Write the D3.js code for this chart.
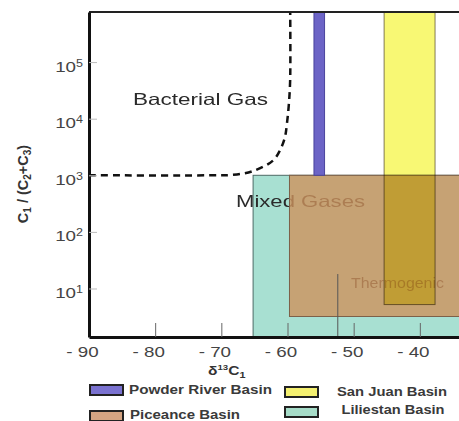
<!DOCTYPE html>
<html>
<head>
<meta charset="utf-8">
<script src="https://cdn.jsdelivr.net/npm/d3@7"></script>
<style>
  body { margin: 0; background: #fff; }
  svg { display: block; font-family: Arial, "Liberation Sans", sans-serif; }
</style>
</head>
<body>
<svg id="chart" width="459" height="421"></svg>
<script>
// basin boxes, drawn bottom to top
const basinNames = ["Liliestan Basin", "Piceance Basin", "San Juan Basin", "Powder River Basin"];
const d13cLow = [-65.2, -59.7, -45.4, -56.0];
const d13cHigh = [-30, -30, -37.7, -54.4];
const ratioLow = [1, 3.2, 5.2, 1000];
const ratioHigh = [1000, 1000, 1e6, 1e6];

// dashed bacterial gas boundary
const boundaryD13c = [-90, -71.3, -68.3, -65.2, -62.2, -61.15, -60.4, -60.1, -59.8, -59.6, -59.6];
const boundaryRatio = [1000, 1000, 1020, 1190, 1820, 2740, 4650, 7900, 17800, 47300, 1e6];

// short line at the thermogenic field
const thermoD13c = [-52.4, -52.4];
const thermoRatio = [18, 1];

const xTicks = [-90, -80, -70, -60, -50, -40];
const yTicks = [10, 100, 1000, 10000, 100000];

const regionLabels = ["Bacterial Gas", "Mixed Gases", "Thermogenic"];
const legendOrder = ["Powder River Basin", "Piceance Basin", "San Juan Basin", "Liliestan Basin"];

const fills = {
  "Liliestan Basin": "#a8e0d2",
  "Piceance Basin": "rgba(205,146,92,0.8)",
  "San Juan Basin": "#f8f874",
  "Powder River Basin": "#6c64c6"
};
const strokes = {
  "Liliestan Basin": "#4d6b66",
  "Piceance Basin": "#7d6048",
  "San Juan Basin": "rgba(80,70,40,0.7)",
  "Powder River Basin": "#4a449c"
};
const swatch = {
  "Liliestan Basin": "#a6dcc8",
  "Piceance Basin": "#d4a482",
  "San Juan Basin": "#f4f070",
  "Powder River Basin": "#7a72d0"
};

const svg = d3.select("#chart");
const plot = { left: 89, right: 486, top: 12, bottom: 337 };

const x = d3.scaleLinear().domain([-90, -30]).range([plot.left, plot.right]);
const y = d3.scaleLog()
  .domain([Math.pow(10, 0.143), Math.pow(10, 5.885)])
  .range([plot.bottom, plot.top]);

function stretch(sel, k) {
  sel.each(function () {
    const w = this.getComputedTextLength();
    d3.select(this).attr("textLength", w * k).attr("lengthAdjust", "spacingAndGlyphs");
  });
}

svg.append("clipPath").attr("id", "clip")
  .append("rect")
  .attr("x", plot.left).attr("y", plot.top)
  .attr("width", plot.right - plot.left).attr("height", plot.bottom - plot.top);

const inner = svg.append("g").attr("clip-path", "url(#clip)");

function basinRect(i) {
  return inner.append("rect")
    .attr("x", x(d13cLow[i]))
    .attr("y", y(ratioHigh[i]))
    .attr("width", x(d13cHigh[i]) - x(d13cLow[i]))
    .attr("height", y(ratioLow[i]) - y(ratioHigh[i]))
    .attr("fill", fills[basinNames[i]])
    .attr("stroke", strokes[basinNames[i]])
    .attr("stroke-width", 1);
}

// teal first, then the field labels, then the rest over them
basinRect(0);

const labelPos = [[133, 105, 135], [236, 207, 129], [351, 288, 93]];
regionLabels.forEach((t, i) => {
  inner.append("text")
    .attr("x", labelPos[i][0])
    .attr("y", labelPos[i][1])
    .attr("font-size", i === 2 ? 15 : 16.5)
    .attr("fill", "#2a2a2a")
    .attr("textLength", labelPos[i][2])
    .attr("lengthAdjust", "spacingAndGlyphs")
    .text(t);
});

basinRect(1);
basinRect(2).style("mix-blend-mode", "multiply");
basinRect(3);

inner.append("path")
  .datum(d3.zip(thermoD13c, thermoRatio))
  .attr("d", d3.line().x(d => x(d[0])).y(d => y(d[1])))
  .attr("stroke", "#555")
  .attr("stroke-width", 1)
  .attr("fill", "none");

inner.append("path")
  .datum(d3.zip(boundaryD13c, boundaryRatio))
  .attr("d", d3.line().x(d => x(d[0])).y(d => y(d[1])).curve(d3.curveCatmullRom.alpha(0.5)))
  .attr("fill", "none")
  .attr("stroke", "#111")
  .attr("stroke-width", 2.5)
  .attr("stroke-dasharray", "7,5");

// top frame line
svg.append("line")
  .attr("x1", plot.left).attr("x2", plot.right)
  .attr("y1", plot.top).attr("y2", plot.top)
  .attr("stroke", "#222").attr("stroke-width", 2);

// axes
const xAxis = svg.append("g")
  .attr("transform", `translate(0,${plot.bottom})`)
  .call(d3.axisBottom(x).tickValues(xTicks).tickSize(-14).tickSizeOuter(0).tickPadding(9)
    .tickFormat(d => "- " + Math.abs(d)));
xAxis.select(".domain").attr("stroke", "#111").attr("stroke-width", 3);
xAxis.selectAll(".tick line").attr("stroke", "#666");
xAxis.selectAll(".tick text")
  .attr("font-size", 15).attr("fill", "#444").attr("dx", -7)
  .call(stretch, 1.25);

const yAxis = svg.append("g")
  .attr("transform", `translate(${plot.left},0)`)
  .call(d3.axisLeft(y).tickValues(yTicks).tickSize(-8).tickSizeOuter(0).tickPadding(6)
    .tickFormat(() => ""));
yAxis.select(".domain").attr("stroke", "#111").attr("stroke-width", 3);
yAxis.selectAll(".tick line").attr("stroke", "#bbb");
yAxis.selectAll(".tick text")
  .attr("font-size", 15).attr("fill", "#444").attr("dy", "0.6em")
  .each(function (d) {
    const t = d3.select(this);
    t.text("10");
    t.append("tspan").attr("dy", "-0.5em").attr("font-size", 10).text(Math.round(Math.log10(d)));
  })
  .call(stretch, 1.25);

// axis titles
const yTitle = svg.append("text")
  .attr("transform", "translate(28,184) rotate(-90)")
  .attr("text-anchor", "middle")
  .attr("font-size", 14.5).attr("font-weight", "bold").attr("fill", "#333");
yTitle.append("tspan").text("C");
yTitle.append("tspan").attr("font-size", 10).attr("dy", 3).text("1");
yTitle.append("tspan").attr("dy", -3).text(" / (C");
yTitle.append("tspan").attr("font-size", 10).attr("dy", 3).text("2");
yTitle.append("tspan").attr("dy", -3).text("+C");
yTitle.append("tspan").attr("font-size", 10).attr("dy", 3).text("3");
yTitle.append("tspan").attr("dy", -3).text(")");

const xTitle = svg.append("text")
  .attr("x", 208).attr("y", 375)
  .attr("font-size", 13).attr("font-weight", "bold").attr("fill", "#333");
xTitle.append("tspan").text("δ");
xTitle.append("tspan").attr("font-size", 8).attr("dy", -5).text("13");
xTitle.append("tspan").attr("dy", 5).text("C");
xTitle.append("tspan").attr("font-size", 9).attr("dy", 3).text("1");
xTitle.call(stretch, 1.2);

// legend
const legendLayout = [
  { sx: 90, sy: 385, tx: 129, ty: 394, anchor: "start", w: 143 },
  { sx: 90, sy: 411, tx: 130, ty: 419, anchor: "start", w: 110 },
  { sx: 285, sy: 387, tx: 392, ty: 396, anchor: "middle", w: 110 },
  { sx: 285, sy: 407, tx: 393, ty: 414, anchor: "middle", w: 103 }
];
const legend = svg.append("g");
legendOrder.forEach((name, i) => {
  const p = legendLayout[i];
  legend.append("rect")
    .attr("x", p.sx).attr("y", p.sy).attr("width", 33).attr("height", 10)
    .attr("fill", swatch[name]).attr("stroke", "#222").attr("stroke-width", 2);
  legend.append("text")
    .attr("x", p.tx).attr("y", p.ty)
    .attr("text-anchor", p.anchor)
    .attr("font-size", 12).attr("font-weight", "bold").attr("fill", "#3a3a3a")
    .attr("textLength", p.w).attr("lengthAdjust", "spacingAndGlyphs")
    .text(name);
});
</script>
</body>
</html>
